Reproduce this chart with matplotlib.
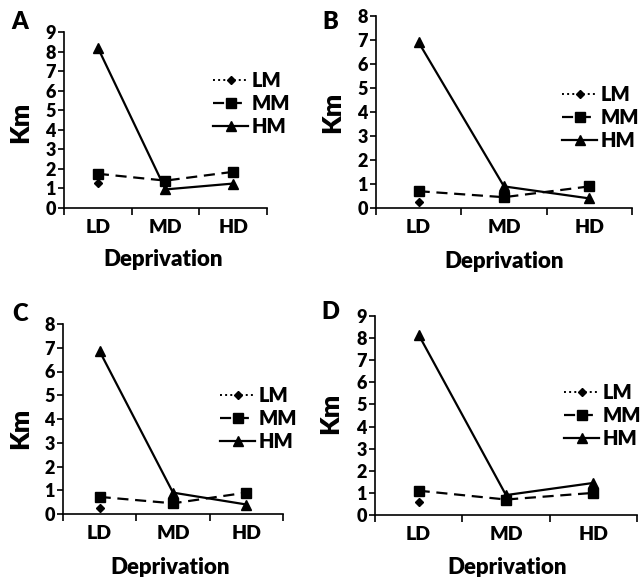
import numpy as np
import matplotlib
matplotlib.use("Agg")
import matplotlib.pyplot as plt

# Data (Km per deprivation level)
groups = ["LD", "MD", "HD"]
series = ["LM", "MM", "HM"]

lm_a = [1.3, np.nan, np.nan]
mm_a = [1.75, 1.4, 1.85]
hm_a = [8.2, 0.95, 1.25]

lm_b = [0.25, np.nan, np.nan]
mm_b = [0.7, 0.45, 0.9]
hm_b = [6.9, 0.9, 0.4]

lm_c = [0.25, np.nan, np.nan]
mm_c = [0.72, 0.45, 0.9]
hm_c = [6.85, 0.9, 0.4]

lm_d = [0.6, np.nan, np.nan]
mm_d = [1.1, 0.7, 1.0]
hm_d = [8.15, 0.9, 1.45]

W, H = 644, 577
FONT = "Lato"
plt.rcParams["font.family"] = [FONT, "DejaVu Sans"]
plt.rcParams["font.weight"] = "bold"

fig = plt.figure(figsize=(W / 100, H / 100), dpi=100)


def fx(px):
    return px / W


def fy(py):
    return 1 - py / H


# pixel boxes: left, right, top, bottom, ymax, letter pos, legend pos, km pos, xlabel pos
panels = [
    dict(letter="A", lm=lm_a, mm=mm_a, hm=hm_a, box=(64, 267, 32, 208), ymax=9,
         lpos=(20, 22), leg=(213, 71), km=(20, 122), dep=(163, 260)),
    dict(letter="B", lm=lm_b, mm=mm_b, hm=hm_b, box=(376, 632, 16, 208), ymax=8,
         lpos=(330, 22), leg=(562, 85), km=(332, 112), dep=(504, 262)),
    dict(letter="C", lm=lm_c, mm=mm_c, hm=hm_c, box=(63, 283, 324, 514), ymax=8,
         lpos=(20, 314), leg=(220, 386), km=(20, 428), dep=(170, 568)),
    dict(letter="D", lm=lm_d, mm=mm_d, hm=hm_d, box=(375, 637, 316, 515), ymax=9,
         lpos=(330, 312), leg=(564, 383), km=(330, 413), dep=(507, 568)),
]

for p in panels:
    l, r, t, b = p["box"]
    ax = fig.add_axes([fx(l), fy(b), fx(r) - fx(l), fy(t) - fy(b)])
    x = np.arange(len(groups)) + 0.5

    ax.plot(x, p["lm"], linestyle=":", color="black", lw=1.4, marker="D",
            markersize=4.5, label="LM")
    ax.plot(x, p["mm"], linestyle=(0, (5, 3)), color="black", lw=1.6, marker="s",
            markersize=7, label="MM")
    ax.plot(x, p["hm"], linestyle="-", color="black", lw=1.6, marker="^",
            markersize=7, label="HM")

    ax.set_xlim(0, 3)
    ax.set_ylim(0, p["ymax"])
    ax.set_yticks(range(0, p["ymax"] + 1))
    ax.set_xticks([0, 1, 2, 3])
    ax.set_xticklabels([])
    ax.set_xticks(x, minor=True)
    ax.set_xticklabels(groups, minor=True)
    ax.tick_params(axis="x", which="major", direction="out", length=5, width=1.2)
    ax.tick_params(axis="x", which="minor", length=0, pad=8, labelsize=14)
    ax.tick_params(axis="y", direction="out", length=4, width=1.2, pad=2, labelsize=13)
    for lab in ax.get_xticklabels(minor=True) + ax.get_yticklabels():
        lab.set_fontweight("heavy")
    for s in ("top", "right"):
        ax.spines[s].set_visible(False)
    for s in ("left", "bottom"):
        ax.spines[s].set_linewidth(1.2)
    ax.patch.set_alpha(0)

    fig.text(fx(p["lpos"][0]), fy(p["lpos"][1]), p["letter"], fontsize=17,
             fontweight="heavy", ha="center", va="center")
    fig.text(fx(p["km"][0]), fy(p["km"][1]), "Km", fontsize=19, fontweight="heavy",
             rotation=90, ha="center", va="center")
    fig.text(fx(p["dep"][0]), fy(p["dep"][1]), "Deprivation", fontsize=16,
             fontweight="heavy", ha="center", va="center")

    leg = ax.legend(loc="upper left", bbox_to_anchor=(fx(p["leg"][0]), fy(p["leg"][1])),
                    bbox_transform=fig.transFigure, frameon=False, borderpad=0,
                    borderaxespad=0, handlelength=1.75, handletextpad=0.15,
                    labelspacing=0.2, prop={"size": 14.5, "weight": "heavy"})

fig.savefig("out.png", dpi=100)
